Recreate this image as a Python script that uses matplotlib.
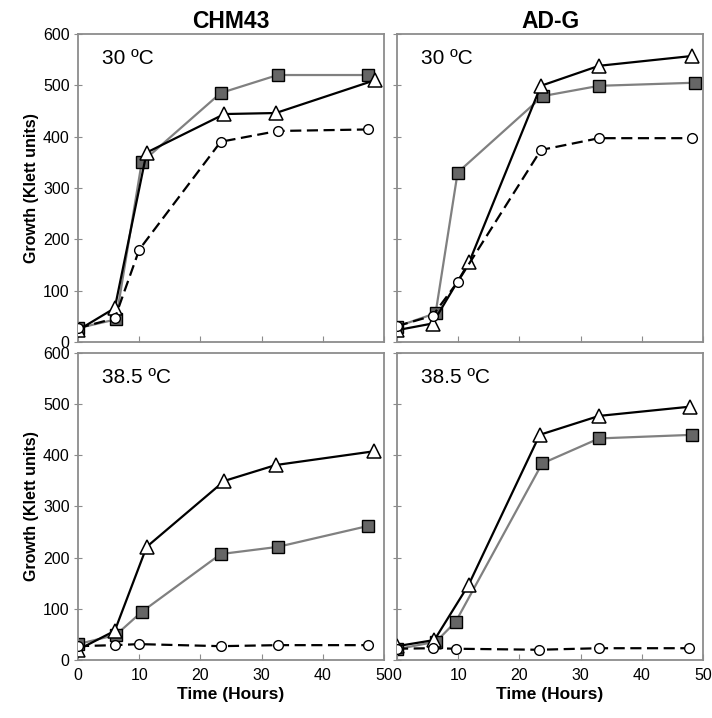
import matplotlib.pyplot as plt

plt.rcParams['font.family'] = ['Liberation Sans', 'DejaVu Sans']

# CHM43, 30 C
t_chm30_sq = [0, 6.2, 10.4, 23.3, 32.6, 47.4]
v_chm30_sq = [27, 44, 350, 485, 520, 520]
t_chm30_tri = [0, 6, 11.2, 23.9, 32.3, 48.5]
v_chm30_tri = [23, 66, 369, 444, 446, 510]
t_chm30_ci = [0, 6, 10, 23.3, 32.6, 47.4]
v_chm30_ci = [27, 46, 180, 390, 411, 414]

# AD-G, 30 C
t_adg30_sq = [0, 6.3, 9.9, 23.8, 33, 48.6]
v_adg30_sq = [30, 56, 330, 479, 499, 505]
t_adg30_tri = [0, 5.8, 11.8, 23.5, 33, 48.1]
v_adg30_tri = [23, 36, 156, 499, 538, 557]
t_adg30_ci = [0, 5.8, 9.9, 23.5, 33, 48.1]
v_adg30_ci = [31, 51, 117, 374, 397, 397]

# CHM43, 38.5 C
t_chm38_sq = [0, 6.2, 10.4, 23.3, 32.6, 47.4]
v_chm38_sq = [31, 49, 94, 207, 221, 262]
t_chm38_tri = [0, 6, 11.2, 23.9, 32.3, 48.4]
v_chm38_tri = [20, 57, 221, 350, 381, 408]
t_chm38_ci = [0, 6, 10, 23.3, 32.6, 47.4]
v_chm38_ci = [27, 29, 31, 27, 29, 29]

# AD-G, 38.5 C
t_adg38_sq = [0, 6.4, 9.6, 23.7, 33, 48.2]
v_adg38_sq = [21, 36, 75, 384, 433, 440]
t_adg38_tri = [0, 6.1, 11.7, 23.3, 33, 47.8]
v_adg38_tri = [27, 39, 147, 440, 477, 495]
t_adg38_ci = [0, 5.8, 9.6, 23.2, 33, 47.7]
v_adg38_ci = [22, 23, 22, 20, 23, 23]

strains = ['CHM43', 'AD-G']
temps = ['30 ºC', '38.5 ºC']

panels = [
    [(t_chm30_sq, v_chm30_sq, t_chm30_tri, v_chm30_tri, t_chm30_ci, v_chm30_ci),
     (t_adg30_sq, v_adg30_sq, t_adg30_tri, v_adg30_tri, t_adg30_ci, v_adg30_ci)],
    [(t_chm38_sq, v_chm38_sq, t_chm38_tri, v_chm38_tri, t_chm38_ci, v_chm38_ci),
     (t_adg38_sq, v_adg38_sq, t_adg38_tri, v_adg38_tri, t_adg38_ci, v_adg38_ci)],
]

fig = plt.figure(figsize=(7.12, 7.18), dpi=100)
lefts = [0.1096, 0.5576]
bottoms = [0.5237, 0.0808]
width = 0.430
heights = [0.429, 0.4276]
spine_col = '#8c8c8c'

for r in range(2):
    for c in range(2):
        ax = fig.add_axes([lefts[c], bottoms[r], width, heights[r]])
        ts, vs, tt, vt, tc, vc = panels[r][c]
        ax.plot(ts, vs, '-', color='#808080', lw=1.6, marker='s', ms=8,
                mfc='#666666', mec='black', mew=1.0, zorder=2)
        ax.plot(tt, vt, '-', color='black', lw=1.6, marker='^', ms=9.5,
                mfc='white', mec='black', mew=1.1, zorder=3)
        ax.plot(tc, vc, '--', color='black', lw=1.6, dashes=(5, 2.5),
                marker='o', ms=7, mfc='white', mec='black', mew=1.0, zorder=4)
        ax.set_xlim(0, 50)
        ax.set_ylim(0, 600)
        ax.set_xticks(range(0, 51, 10))
        ax.set_yticks(range(0, 601, 100))
        for sp in ax.spines.values():
            sp.set_color(spine_col)
            sp.set_linewidth(1.3)
        ax.tick_params(axis='x', direction='in', length=4, color=spine_col,
                       labelsize=11.5, pad=6)
        ax.tick_params(axis='y', direction='inout', length=6, color=spine_col,
                       labelsize=11.5, pad=3)
        ax.text(0.078, 0.92, temps[r], transform=ax.transAxes, fontsize=15,
                ha='left', va='center')
        if c == 0:
            ax.set_ylabel('Growth (Klett units)', fontsize=11.5, fontweight='bold',
                          labelpad=3)
        else:
            ax.set_yticklabels([])
        if r == 0:
            ax.set_xticklabels([])
            ax.set_title(strains[c], fontsize=16.5, fontweight='bold', pad=4)
        else:
            ax.set_xlabel('Time (Hours)', fontsize=12.5, fontweight='bold',
                          labelpad=3)

fig.savefig('out.png', dpi=100)
